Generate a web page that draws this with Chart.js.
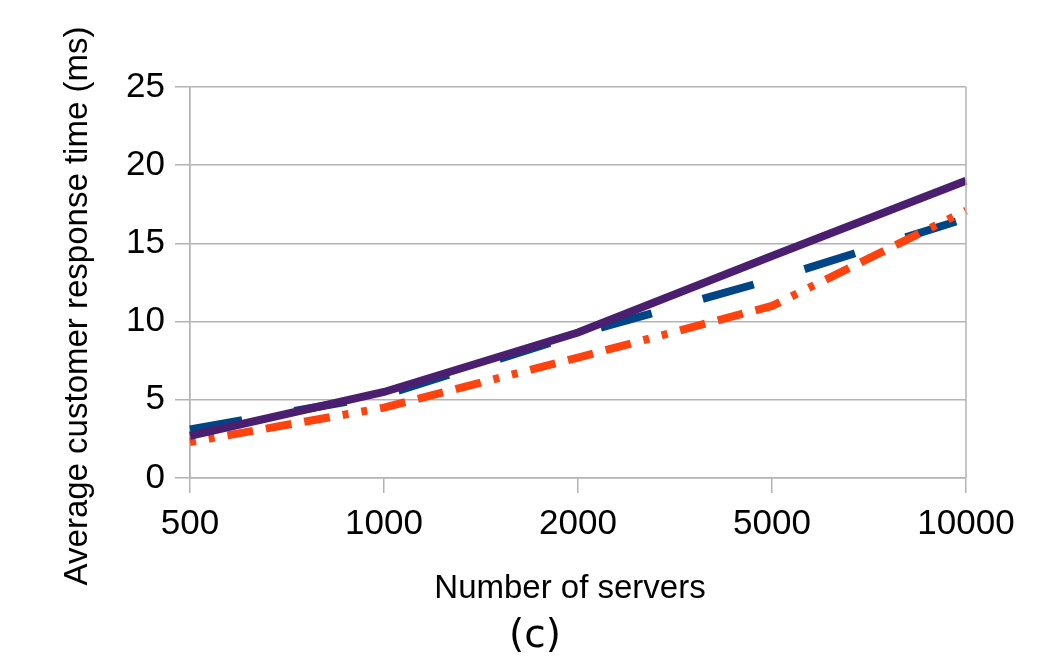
<!DOCTYPE html>
<html>
<head>
<meta charset="utf-8">
<script src="https://cdn.jsdelivr.net/npm/chart.js@4/dist/chart.umd.min.js"></script>
<style>
html,body{margin:0;padding:0;background:#fff;}
canvas{display:block;}
</style>
</head>
<body>
<canvas id="c" width="1056" height="660"></canvas>
<script>
const categories = ['500', '1000', '2000', '5000', '10000'];
const blueDashed = [3.1, 5.3, 9.2, 12.7, 16.6];
const purpleSolid = [2.7, 5.5, 9.3, 14.2, 19.0];
const orangeDashDot = [2.3, 4.5, 7.7, 11.0, 17.1];
const yTicks = [0, 5, 10, 15, 20, 25];

const xTitle = 'Number of servers';
const yTitle = 'Average customer response time (ms)';
const caption = '(c)';

const GRID = '#b3b3b3';
const FONT = "'Liberation Sans', Arial, sans-serif";

const textPlugin = {
  id: 'texts',
  afterDraw(chart) {
    const ctx = chart.ctx;
    const area = chart.chartArea;
    ctx.save();
    // right border of plot
    ctx.strokeStyle = GRID;
    ctx.lineWidth = 1.5;
    ctx.beginPath();
    ctx.moveTo(area.right, area.top);
    ctx.lineTo(area.right, area.bottom);
    ctx.stroke();

    ctx.fillStyle = '#000';
    // y title
    ctx.save();
    ctx.translate(87, 306);
    ctx.rotate(-Math.PI / 2);
    ctx.font = '33px ' + FONT;
    ctx.textAlign = 'center';
    ctx.textBaseline = 'alphabetic';
    ctx.fillText(yTitle, 0, 0);
    ctx.restore();
    // x title
    ctx.font = '33px ' + FONT;
    ctx.textAlign = 'center';
    ctx.textBaseline = 'alphabetic';
    ctx.fillText(xTitle, 570, 598);
    // caption
    ctx.font = "39px 'DejaVu Sans', sans-serif";
    ctx.fillText(caption, 535, 647);
    ctx.restore();
  }
};

new Chart(document.getElementById('c'), {
  type: 'line',
  data: {
    labels: categories,
    datasets: [
      {
        label: 'A',
        data: blueDashed,
        borderColor: '#004586',
        backgroundColor: '#004586',
        borderWidth: 8,
        borderDash: [53, 53],
        borderCapStyle: 'butt',
        pointRadius: 0,
        tension: 0,
        order: 3
      },
      {
        label: 'B',
        data: purpleSolid,
        borderColor: '#4b1f6f',
        backgroundColor: '#4b1f6f',
        borderWidth: 8,
        borderCapStyle: 'butt',
        pointRadius: 0,
        tension: 0,
        order: 1
      },
      {
        label: 'C',
        data: orangeDashDot,
        borderColor: '#ff420e',
        backgroundColor: '#ff420e',
        borderWidth: 8,
        borderDash: [6, 13, 6, 13, 26, 13, 26, 13, 26, 13],
        borderCapStyle: 'butt',
        pointRadius: 0,
        tension: 0,
        order: 2
      }
    ]
  },
  options: {
    responsive: false,
    animation: false,
    devicePixelRatio: 1,
    layout: { padding: { left: 0, top: 87, right: 90, bottom: 0 } },
    plugins: {
      legend: { display: false },
      tooltip: { enabled: false },
      title: { display: false }
    },
    scales: {
      x: {
        type: 'category',
        offset: false,
        grid: {
          display: true,
          drawOnChartArea: true,
          color: (c) => (c.index === 0 ? GRID : 'rgba(0,0,0,0)'),
          tickColor: GRID,
          tickLength: 15,
          lineWidth: 1.5
        },
        border: { display: true, color: GRID, width: 1.5 },
        ticks: {
          color: '#000',
          font: { family: FONT, size: 35 },
          padding: 10,
          maxRotation: 0,
          autoSkip: false
        },
        afterFit(scale) { scale.height = 182; }
      },
      y: {
        min: 0,
        max: 25,
        afterBuildTicks(scale) { scale.ticks = yTicks.map(v => ({ value: v })); },
        grid: {
          color: GRID,
          tickColor: GRID,
          tickLength: 15,
          lineWidth: 1.5
        },
        border: { display: true, color: GRID, width: 1.5 },
        ticks: {
          color: '#000',
          font: { family: FONT, size: 35 },
          padding: 10
        },
        afterFit(scale) { scale.width = 190; }
      }
    }
  },
  plugins: [textPlugin]
});
</script>
</body>
</html>
